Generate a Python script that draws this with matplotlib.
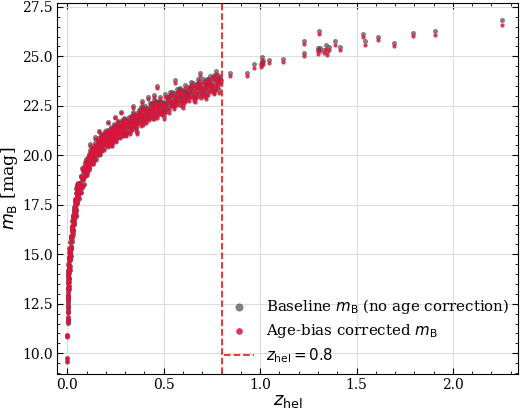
import numpy as np
import matplotlib.pyplot as plt

# Hubble-diagram style scatter: baseline vs age-bias corrected m_B
# values, grouped by redshift range

# z < 0.01 (incl. the few very nearby outliers)
z_s1 = [0.0010, 0.0011, 0.0012, 0.0013, 0.0014,
        0.0020, 0.0024, 0.0028, 0.0032, 0.0036, 0.0040, 0.0044, 0.0048, 0.0052, 0.0056,
        0.0060, 0.0064, 0.0068, 0.0072, 0.0076, 0.0080, 0.0084, 0.0088, 0.0092, 0.0096,
        0.0018, 0.0021, 0.0025, 0.0030, 0.0035, 0.0042, 0.0050, 0.0058, 0.0066, 0.0075,
        0.0090,
        0.0015, 0.0017, 0.0019, 0.0022, 0.0026, 0.0029, 0.0033, 0.0037, 0.0041, 0.0045,
        0.0053, 0.0062, 0.0070, 0.0078, 0.0086]
mb_s1 = [9.60, 9.76, 10.85, 10.92, 10.88,
         12.06, 11.66, 12.71, 12.31, 12.83, 12.15, 12.87, 13.34, 12.86, 12.75,
         13.57, 13.98, 13.24, 13.75, 13.61, 14.28, 13.42, 14.35, 14.06, 13.82,
         11.55, 11.75, 12.35, 12.90, 13.30, 13.70, 14.10, 14.50, 14.80, 15.10,
         15.30,
         11.65, 11.85, 12.10, 12.45, 12.60, 12.95, 13.10, 13.55, 13.25, 13.85,
         13.95, 14.20, 14.45, 14.65, 14.85]

# 0.01 < z < 0.05
z_s2 = [0.010, 0.011, 0.012, 0.013, 0.014, 0.015, 0.016, 0.017, 0.018, 0.019,
        0.020, 0.021, 0.022, 0.023, 0.024, 0.025, 0.026, 0.027, 0.028, 0.029,
        0.030, 0.031, 0.032, 0.033, 0.034, 0.035, 0.036, 0.037, 0.038, 0.039,
        0.040, 0.041, 0.042, 0.043, 0.044, 0.045, 0.046, 0.047, 0.048, 0.049,
        0.0105, 0.0125, 0.0145, 0.0165, 0.0185, 0.0205, 0.0225, 0.0245, 0.0265, 0.0285,
        0.0305, 0.0325, 0.0345, 0.0365, 0.0385, 0.0405, 0.0425, 0.0445, 0.0465, 0.0485,
        0.0115, 0.0140, 0.0165, 0.0190, 0.0215, 0.0240, 0.0270, 0.0300, 0.0330, 0.0360,
        0.0390, 0.0430]
mb_s2 = [14.33, 14.84, 14.41, 14.21, 15.13, 15.06, 14.80, 15.84, 15.33, 15.83,
         15.40, 15.92, 15.29, 16.32, 15.86, 16.21, 16.70, 16.45, 16.02, 16.93,
         16.49, 16.89, 16.21, 16.83, 17.22, 16.73, 16.59, 17.29, 17.65, 16.94,
         17.40, 17.22, 17.80, 16.98, 17.81, 17.53, 17.28, 17.73, 18.12, 17.58,
         14.80, 14.73, 14.79, 15.63, 14.92, 15.87, 15.65, 16.39, 16.17, 16.96,
         16.19, 16.76, 17.14, 16.51, 17.02, 17.74, 17.50, 17.20, 17.60, 18.03,
         14.24, 14.99, 15.14, 15.90, 15.37, 16.34, 16.29, 16.25, 16.87, 17.41,
         17.08, 16.95]

# 0.05 < z < 0.1
z_s3 = [0.050, 0.052, 0.053, 0.055, 0.057, 0.059, 0.060, 0.062, 0.064, 0.065,
        0.067, 0.069, 0.070, 0.072, 0.074, 0.076, 0.077, 0.079, 0.081, 0.082,
        0.084, 0.086, 0.087, 0.089, 0.091, 0.093, 0.094, 0.096, 0.098, 0.099,
        0.046, 0.049, 0.052, 0.055, 0.053, 0.063, 0.075]
mb_s3 = [17.99, 18.34, 17.68, 18.12, 18.00, 18.57, 17.82, 18.61, 18.37, 18.13,
         18.58, 18.96, 18.45, 18.16, 18.93, 18.79, 18.45, 19.35, 18.84, 19.22,
         18.78, 19.20, 18.57, 19.47, 18.99, 19.29, 19.68, 19.43, 19.01, 19.80,
         18.35, 18.45, 18.55, 18.60, 18.15, 18.37, 18.39]

# 0.1 < z < 0.3
z_s4 = [0.1000, 0.1025, 0.1050, 0.1075, 0.1100, 0.1125, 0.1150, 0.1175, 0.1200, 0.1225,
        0.1250, 0.1275, 0.1300, 0.1325, 0.1350, 0.1375, 0.1400, 0.1425, 0.1450, 0.1475,
        0.1500, 0.1525, 0.1550, 0.1575, 0.1600, 0.1625, 0.1650, 0.1675, 0.1700, 0.1725,
        0.1750, 0.1775, 0.1800, 0.1825, 0.1850, 0.1875, 0.1900, 0.1925, 0.1950, 0.1975,
        0.2000, 0.2025, 0.2050, 0.2075, 0.2100, 0.2125, 0.2150, 0.2175, 0.2200, 0.2225,
        0.2250, 0.2275, 0.2300, 0.2325, 0.2350, 0.2375, 0.2400, 0.2425, 0.2450, 0.2475,
        0.2500, 0.2525, 0.2550, 0.2575, 0.2600, 0.2625, 0.2650, 0.2675, 0.2700, 0.2725,
        0.2750, 0.2775, 0.2800, 0.2825, 0.2850, 0.2875, 0.2900, 0.2925, 0.2950, 0.2975,
        0.105, 0.115, 0.125, 0.135, 0.145, 0.155, 0.165, 0.175, 0.185, 0.195,
        0.205, 0.215, 0.225, 0.235, 0.245, 0.255, 0.265, 0.275, 0.285, 0.295,
        0.101, 0.108, 0.115, 0.121, 0.128, 0.135, 0.141, 0.148, 0.155, 0.161,
        0.168, 0.175, 0.181, 0.188, 0.195, 0.201, 0.208, 0.215, 0.221, 0.228,
        0.235, 0.241, 0.248, 0.255, 0.261, 0.268, 0.275, 0.281, 0.288, 0.295,
        0.143, 0.210, 0.250, 0.280, 0.165, 0.120, 0.230]
mb_s4 = [19.35, 19.68, 19.09, 19.60, 19.92, 19.50, 19.38, 19.96, 20.26, 19.65,
         20.01, 19.86, 20.34, 19.66, 20.35, 20.11, 19.90, 20.28, 20.60, 20.14,
         19.86, 20.53, 20.38, 20.07, 20.87, 20.38, 20.73, 20.31, 20.69, 20.11,
         20.91, 20.47, 20.70, 21.07, 20.58, 21.04, 20.37, 20.83, 20.58, 21.25,
         20.82, 20.58, 21.06, 21.26, 20.75, 20.52, 21.19, 20.89, 21.09, 20.67,
         21.41, 20.77, 21.07, 21.34, 21.01, 20.75, 21.26, 21.58, 20.96, 21.16,
         21.51, 20.76, 21.30, 20.99, 21.46, 21.13, 21.75, 20.99, 21.48, 21.28,
         20.96, 21.49, 21.07, 21.78, 21.37, 21.65, 21.03, 21.50, 21.77, 21.32,
         19.58, 20.09, 19.79, 19.64, 20.44, 20.38, 20.16, 21.04, 20.62, 21.04,
         20.67, 21.09, 20.55, 21.39, 20.99, 21.27, 21.67, 21.47, 21.11, 21.86,
         19.25, 19.69, 19.36, 20.12, 19.85, 20.13, 20.49, 20.39, 20.12, 20.74,
         20.49, 20.78, 20.32, 20.75, 21.03, 20.72, 20.61, 21.09, 21.32, 20.85,
         21.14, 21.03, 21.43, 20.91, 21.47, 21.28, 21.13, 21.45, 21.72, 21.37,
         20.90, 21.70, 21.95, 22.20, 21.25, 20.55, 20.55]

# 0.3 < z < 0.5
z_s5 = [0.300, 0.303, 0.307, 0.310, 0.313, 0.317, 0.320, 0.323, 0.327, 0.330,
        0.333, 0.337, 0.340, 0.343, 0.347, 0.350, 0.353, 0.357, 0.360, 0.363,
        0.367, 0.370, 0.373, 0.377, 0.380, 0.383, 0.387, 0.390, 0.393, 0.397,
        0.400, 0.403, 0.407, 0.410, 0.413, 0.417, 0.420, 0.423, 0.427, 0.430,
        0.433, 0.437, 0.440, 0.443, 0.447, 0.450, 0.453, 0.457, 0.460, 0.463,
        0.467, 0.470, 0.473, 0.477, 0.480, 0.483, 0.487, 0.490, 0.493, 0.497,
        0.305, 0.318, 0.331, 0.345, 0.358, 0.372, 0.385, 0.398, 0.412, 0.425,
        0.438, 0.452, 0.465, 0.478, 0.492,
        0.302, 0.312, 0.322, 0.332, 0.342, 0.352, 0.362, 0.372, 0.382, 0.392,
        0.402, 0.412, 0.422, 0.432, 0.442, 0.452, 0.462, 0.472, 0.482, 0.492,
        0.340, 0.390, 0.420, 0.450, 0.465, 0.360]
mb_s5 = [21.83, 21.13, 21.80, 21.53, 21.30, 21.66, 21.95, 21.48, 21.19, 21.85,
         21.69, 21.38, 22.17, 21.66, 22.01, 21.58, 21.95, 21.36, 22.16, 21.71,
         21.94, 22.30, 21.81, 22.27, 21.60, 22.05, 21.80, 22.46, 22.03, 21.79,
         22.28, 22.48, 21.97, 21.74, 22.41, 22.11, 22.31, 21.89, 22.63, 21.99,
         22.29, 22.56, 22.23, 21.97, 22.48, 22.80, 22.18, 22.38, 22.73, 21.98,
         22.52, 22.21, 22.68, 22.35, 22.97, 22.21, 22.70, 22.50, 22.18, 22.71,
         21.11, 21.62, 21.96, 21.58, 21.48, 22.10, 22.42, 21.85, 22.24, 22.12,
         22.62, 21.97, 22.69, 22.47, 22.29,
         21.15, 21.71, 21.62, 21.42, 22.09, 21.74, 22.05, 21.76, 22.10, 21.67,
         22.36, 22.03, 22.25, 22.57, 22.41, 22.11, 22.71, 22.42, 22.69, 22.22,
         22.50, 22.75, 22.95, 23.05, 23.50, 21.20]

# 0.5 < z < 0.8
z_s6 = [0.500, 0.504, 0.508, 0.512, 0.516, 0.520, 0.524, 0.528, 0.532, 0.536,
        0.540, 0.544, 0.548, 0.552, 0.556, 0.560, 0.564, 0.568, 0.572, 0.576,
        0.580, 0.584, 0.588, 0.592, 0.596, 0.600, 0.604, 0.608, 0.612, 0.616,
        0.620, 0.624, 0.628, 0.632, 0.636, 0.640, 0.644, 0.648, 0.652, 0.656,
        0.660, 0.664, 0.668, 0.672, 0.676, 0.680, 0.684, 0.688, 0.692, 0.696,
        0.700, 0.704, 0.708, 0.712, 0.716, 0.720, 0.724, 0.728, 0.732, 0.736,
        0.740, 0.744, 0.748, 0.752, 0.756, 0.760, 0.764, 0.768, 0.772, 0.776,
        0.780, 0.784, 0.788, 0.792, 0.796,
        0.510, 0.535, 0.560, 0.585, 0.610, 0.635, 0.660, 0.685, 0.710, 0.735,
        0.760, 0.785,
        0.507, 0.522, 0.537, 0.552, 0.567, 0.582, 0.597, 0.612, 0.627, 0.642,
        0.657, 0.672, 0.687, 0.702, 0.717, 0.732, 0.747, 0.762, 0.777, 0.792,
        0.560, 0.690, 0.770, 0.600, 0.720, 0.500]
mb_s6 = [22.61, 22.29, 23.08, 22.58, 22.92, 22.49, 22.86, 22.27, 23.07, 22.62,
         22.85, 23.21, 22.72, 23.17, 22.50, 22.95, 22.70, 23.36, 22.93, 22.69,
         23.18, 23.38, 22.87, 22.65, 23.32, 23.02, 23.23, 22.80, 23.54, 22.90,
         23.20, 23.47, 23.14, 22.88, 23.38, 23.71, 23.08, 23.28, 23.63, 22.88,
         23.41, 23.11, 23.57, 23.24, 23.86, 23.10, 23.58, 23.38, 23.06, 23.58,
         23.16, 23.86, 23.45, 23.73, 23.10, 23.57, 23.84, 23.38, 23.21, 23.76,
         24.01, 23.37, 23.71, 23.53, 23.98, 23.27, 23.94, 23.67, 23.43, 23.79,
         24.08, 23.60, 23.31, 23.96, 23.80,
         22.32, 23.22, 22.82, 23.27, 22.93, 23.38, 22.86, 23.73, 23.34, 23.63,
         24.05, 23.87,
         22.66, 22.94, 22.65, 22.57, 23.08, 23.34, 22.90, 23.21, 23.12, 23.52,
         23.01, 23.59, 23.41, 23.26, 23.59, 23.85, 23.51, 23.31, 23.87, 23.78,
         23.80, 24.15, 24.25, 22.55, 23.00, 22.00]

# age-bias shift (baseline minus corrected) seen in each redshift range
dm_age = [0.02, 0.03, 0.05, 0.08, 0.12, 0.15]

# sparse points beyond z = 0.8
z_high = [0.845, 0.931, 0.970, 1.009, 1.012, 1.005, 1.016, 1.048, 1.117, 1.229,
          1.228, 1.305, 1.298, 1.312, 1.302, 1.330, 1.340, 1.355, 1.348, 1.387,
          1.413, 1.534, 1.544, 1.609, 1.695, 1.795, 1.909, 2.256]
mb_high = [24.17, 24.18, 24.59, 24.98, 24.71, 24.62, 24.78, 24.81, 24.86, 25.78,
           25.17, 26.29, 25.42, 25.44, 25.30, 25.34, 25.56, 25.49, 25.22, 25.75,
           25.49, 26.14, 25.75, 26.00, 25.69, 26.20, 26.27, 26.82]
mbc_high = [24.00, 24.02, 24.42, 24.80, 24.54, 24.45, 24.61, 24.64, 24.69, 25.61,
            25.00, 26.12, 25.25, 25.27, 25.12, 25.17, 25.39, 25.32, 25.05, 25.58,
            25.32, 25.97, 25.58, 25.83, 25.52, 26.03, 26.10, 26.58]

z_cut = 0.8

segments = [(z_s1, mb_s1), (z_s2, mb_s2), (z_s3, mb_s3),
            (z_s4, mb_s4), (z_s5, mb_s5), (z_s6, mb_s6)]
z_hel = np.concatenate([np.array(z) for z, m in segments] + [np.array(z_high)])
mb_base = np.concatenate([np.array(m) for z, m in segments] + [np.array(mb_high)])
mb_corr = np.concatenate([np.array(m) - d for (z, m), d in zip(segments, dm_age)]
                         + [np.array(mbc_high)])

plt.rcParams['font.family'] = 'DejaVu Serif'
plt.rcParams['mathtext.fontset'] = 'dejavusans'

fig, ax = plt.subplots(figsize=(5.2, 4.11), dpi=100)
fig.subplots_adjust(left=0.11, right=0.996, top=0.993, bottom=0.09)

ax.scatter(z_hel, mb_base, s=13, color='#4a4a4a', alpha=0.7, linewidths=0,
           label=r'Baseline $m_\mathrm{B}$ (no age correction)', zorder=2)
ax.scatter(z_hel, mb_corr, s=9, color='#dc143c', alpha=0.85, linewidths=0,
           label=r'Age-bias corrected $m_\mathrm{B}$', zorder=3)
ax.axvline(z_cut, color='#e8262b', ls='--', lw=1.3,
           label=r'$z_\mathrm{hel} = 0.8$', zorder=4)

ax.set_xlim(-0.052, 2.337)
ax.set_ylim(8.95, 27.7)
ax.set_xticks([0.0, 0.5, 1.0, 1.5, 2.0])
ax.set_yticks([10.0, 12.5, 15.0, 17.5, 20.0, 22.5, 25.0, 27.5])
ax.set_xticks(np.arange(0.0, 2.35, 0.1), minor=True)
ax.set_yticks(np.arange(9.0, 27.8, 0.5), minor=True)
ax.tick_params(which='both', direction='in', top=True, right=True, labelsize=10)
ax.tick_params(which='major', length=4, pad=3)
ax.tick_params(which='minor', length=2)
ax.grid(True, which='major', color='#dddddd', lw=0.8)
ax.set_axisbelow(True)

ax.set_xlabel(r'$z_\mathrm{hel}$', fontsize=13, labelpad=0)
ax.set_ylabel(r'$m_\mathrm{B}$ [mag]', fontsize=12.5)
ax.yaxis.set_label_coords(-0.08, 0.5)

ax.legend(loc='lower right', frameon=False, fontsize=10.8, markerscale=1.6,
          handletextpad=0.8, borderaxespad=0.2, handlelength=2.0, labelspacing=0.4)

fig.savefig('out.png', dpi=100)
